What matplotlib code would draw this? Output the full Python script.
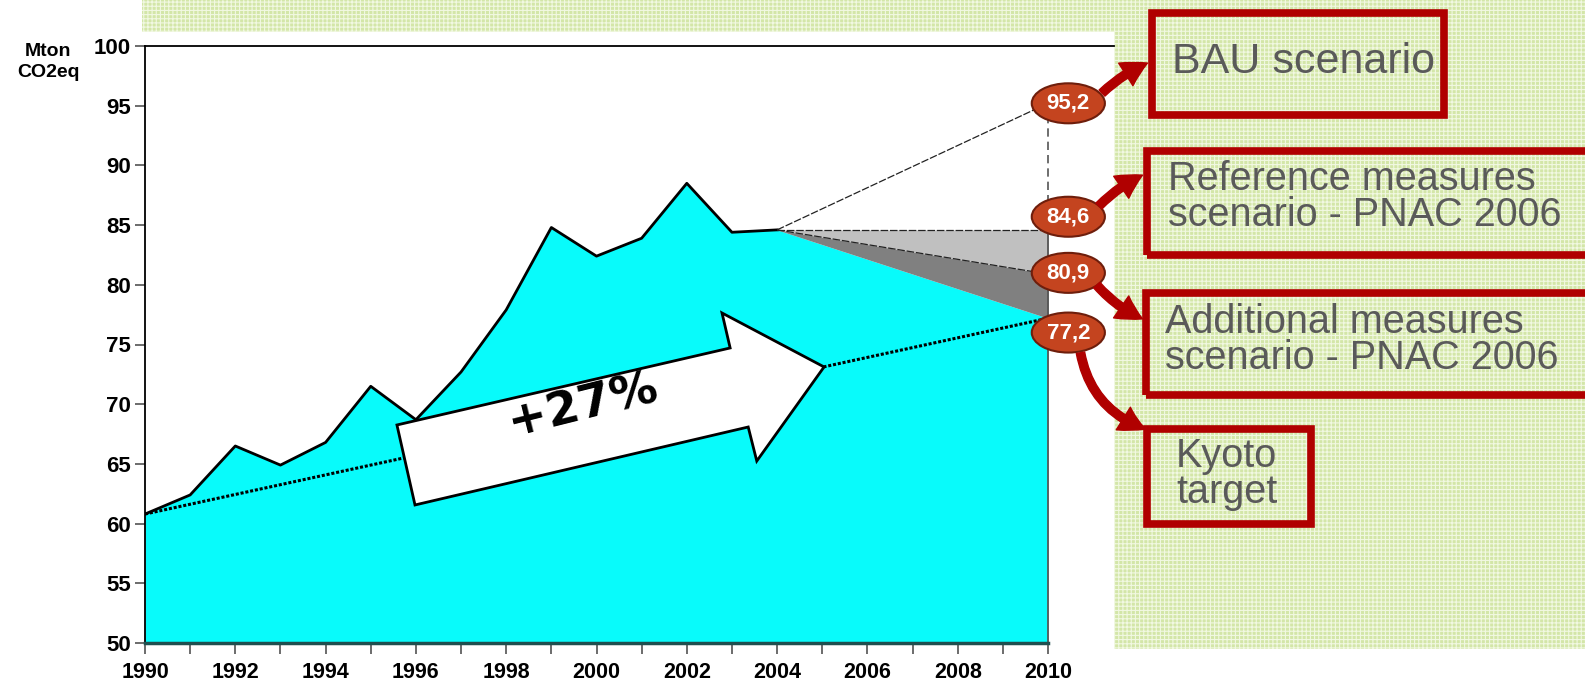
import numpy as np
import matplotlib.pyplot as plt
from matplotlib.patches import Polygon, Ellipse, Rectangle, FancyArrowPatch

plt.rcParams['font.family'] = ['Liberation Sans', 'DejaVu Sans']
plt.rcParams['hatch.linewidth'] = 0.8

# data
years = np.arange(1990, 2005)
emissions = [60.8, 62.4, 66.5, 64.9, 66.8, 71.5, 68.7, 72.7, 77.9, 84.8,
             82.4, 83.9, 88.5, 84.4, 84.6]
proj_years = [2004, 2010]
bau = [84.6, 95.2]
ref_measures = [84.6, 84.6]
add_measures = [84.6, 80.9]
kyoto_path = [84.6, 77.2]
kyoto_years = [1990, 2010]
kyoto_line = [60.8, 77.2]
end_values = [95.2, 84.6, 80.9, 77.2]
end_labels = ['95,2', '84,6', '80,9', '77,2']
box_texts = ['BAU scenario',
             'Reference measures\nscenario - PNAC 2006',
             'Additional measures\nscenario - PNAC 2006',
             'Kyoto\ntarget']
growth_text = '+27%'

W, H = 1585, 685


def fx(px):
    return px / W


def fy(py):
    return 1 - py / H


def main():
    fig = plt.figure(figsize=(W / 100, H / 100), dpi=100)

    # green patterned backdrop
    for x0, y0, x1, y1 in [(142, 0, W, 32), (1114, 0, W, 649)]:
        fig.patches.append(Rectangle((fx(x0), fy(y1)), fx(x1) - fx(x0), fy(y0) - fy(y1),
                                     transform=fig.transFigure, facecolor='#d3e6a8',
                                     edgecolor='#f1f8e2', hatch='++++', lw=0, zorder=0))

    ax = fig.add_axes([fx(145), fy(643), fx(1048) - fx(145), fy(46) - fy(643)])
    ax.set_xlim(1990, 2010)
    ax.set_ylim(50, 100)

    x_all = list(years) + [proj_years[1]]
    y_all = emissions + [kyoto_path[1]]
    ax.fill_between(x_all, 50, y_all, color='#08fbfb', lw=0, zorder=1)
    ax.fill_between(proj_years, add_measures, ref_measures, color='#c0c0c0', lw=0, zorder=1)
    ax.fill_between(proj_years, kyoto_path, add_measures, color='#808080', lw=0, zorder=1)
    ax.plot(years, emissions, color='black', lw=2, zorder=3)
    for s in [bau, ref_measures, add_measures]:
        ax.plot(proj_years, s, color='#222222', lw=0.9, ls=(0, (6, 1.5)), zorder=3)
    ax.plot([2010, 2010], [50, ref_measures[1]], color='#555555', lw=1.3, zorder=3, clip_on=False)
    ax.plot([2010, 2010], [ref_measures[1], bau[1]], color='#555555', lw=1.2,
            ls=(0, (5, 3)), zorder=3, clip_on=False)
    ax.plot(kyoto_years, kyoto_line, color='black', lw=2.2, ls=(0, (1, 0.6)), zorder=4)

    # big growth arrow
    arrow_pts = [(1995.58, 68.26), (2002.96, 74.71), (2002.78, 77.64), (2005.04, 73.12),
                 (2003.55, 65.24), (2003.36, 68.09), (1995.98, 61.56)]
    ax.add_patch(Polygon(arrow_pts, closed=True, facecolor='white', edgecolor='black',
                         lw=2, zorder=5))
    ax.text(1999.7, 69.85, growth_text, rotation=14, ha='center', va='center',
            fontsize=34, fontweight='bold', family='DejaVu Sans', zorder=6)

    # end-value ovals
    offsets = [0, 1.1, 0.1, -1.2]
    for v, lab, off in zip(end_values, end_labels, offsets):
        ax.add_patch(Ellipse((2010.45, v + off), 1.62, 3.35, facecolor='#c4441f',
                             edgecolor='#6e1e0c', lw=1.5, clip_on=False, zorder=7))
        ax.text(2010.45, v + off, lab, ha='center', va='center', color='white',
                fontsize=16, fontweight='bold', clip_on=False, zorder=8)

    ax.spines['right'].set_visible(False)
    ax.spines['top'].set_visible(False)
    ax.spines['left'].set_linewidth(1.3)
    ax.spines['bottom'].set_color('#1f4f4f')
    ax.spines['bottom'].set_linewidth(2.5)
    ax.spines['bottom'].set_zorder(4)
    ax.set_xticks(np.arange(1990, 2011))
    ax.set_xticklabels([str(y) if y % 2 == 0 else '' for y in range(1990, 2011)])
    ax.set_yticks(np.arange(50, 101, 5))
    ax.tick_params(axis='x', length=8, width=1.3, color='#606060', pad=6, labelsize=15.5)
    ax.tick_params(axis='y', length=7, width=1.3, color='#606060', pad=3, labelsize=16)
    for t in ax.get_xticklabels() + ax.get_yticklabels():
        t.set_fontweight('bold')

    fig.lines.append(plt.Line2D([fx(145), fx(1114)], [fy(46), fy(46)], color='black',
                                lw=1.3, transform=fig.transFigure))
    fig.text(fx(48), fy(62), 'Mton\nCO2eq', ha='center', va='center', fontsize=14,
             fontweight='bold', linespacing=1.35)

    # scenario boxes
    boxes = [(1148, 9, 1448, 119), (1143, 147, 1600, 259), (1142, 289, 1600, 399),
             (1143, 425, 1315, 528)]
    text_pos = [(1172, 42, 31), (1168, 160, 28.5), (1165, 303, 28.5), (1176, 437, 28.5)]
    for (x0, y0, x1, y1), (tx, ty, fs), txt in zip(boxes, text_pos, box_texts):
        fig.patches.append(Rectangle((fx(x0 + 4), fy(y1 - 4)), fx(x1 - x0 - 8), fy(0) - fy(y1 - y0 - 8),
                                     transform=fig.transFigure, facecolor='none',
                                     edgecolor='#b00000', lw=5.5, zorder=2))
        fig.text(fx(tx), fy(ty), txt, ha='left', va='top', fontsize=fs, color='#5a5a5a',
                 linespacing=0.93, zorder=3)

    # red connector arrows
    links = [((1100, 95), (1150, 62), -0.1), ((1097, 208), (1145, 174), -0.1),
             ((1095, 283), (1145, 320), 0.12), ((1080, 350), (1148, 430), 0.3)]
    for (ax0, ay0), (bx, by), rad in links:
        fig.patches.append(FancyArrowPatch((fx(ax0), fy(ay0)), (fx(bx), fy(by)),
                                           transform=fig.transFigure,
                                           arrowstyle='simple,head_length=1.1,head_width=1.2,tail_width=0.38',
                                           mutation_scale=16, color='#b00000',
                                           connectionstyle='arc3,rad={}'.format(rad), zorder=9))

    plt.savefig('out.png', dpi=100)
    plt.close()


main()
